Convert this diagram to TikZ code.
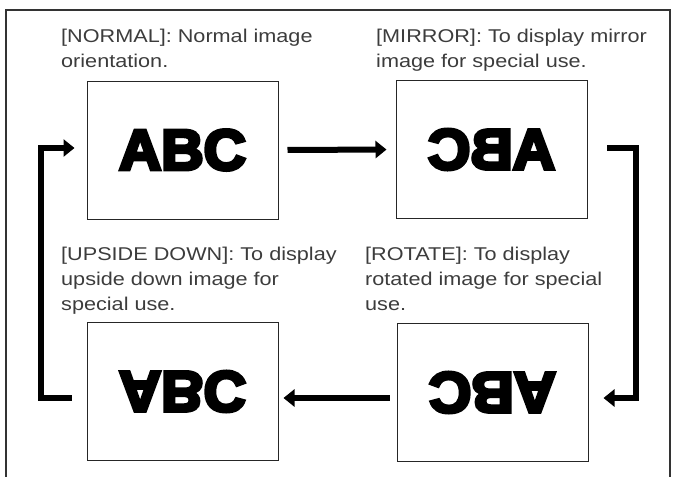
\documentclass[tikz,border=0pt]{standalone}
\usepackage{fontspec}
\usepackage{graphicx}
\usetikzlibrary{arrows.meta,calc}
\setmainfont{Liberation Sans}
\newfontfamily\lblfont[FakeStretch=1.17]{Liberation Sans}
\newfontfamily\heavyfont[BoldFeatures={FakeBold=6}]{Liberation Sans}
\newcommand{\abcword}{\resizebox{127pt}{40pt}{\heavyfont\bfseries ABC}}
\definecolor{txtgray}{HTML}{3C3C3C}
\definecolor{framegray}{HTML}{333333}
\tikzset{
  screen/.style={draw=black!85, line width=1pt, minimum width=191pt, minimum height=138pt, inner sep=0pt},
  lbl/.style={anchor=base west, align=left, inner sep=0pt, text=txtgray, font=\lblfont\fontsize{18.5}{25}\selectfont},
  flow/.style={line width=6pt, -{Triangle[length=11pt,width=17pt]}}
}
\begin{document}
\begin{tikzpicture}[x=1pt,y=-1pt]
\useasboundingbox (0,0) rectangle (673,477);
% frame
\draw[framegray, line width=2pt] (5.5,478) -- (5.5,10) -- (670,10) -- (670,478);
% screens
\node[screen] (n1) at (182.5,150) {\abcword};
\node[screen] (n2) at (491.5,149.5) {\scalebox{-1}[1]{\abcword}};
\node[screen] (n3) at (182.5,391.5) {\scalebox{1}[-1]{\abcword}};
\node[screen] (n4) at (492.5,392.5) {\rotatebox{180}{\abcword}};
% labels (anchor = baseline of last line)
\node[lbl] (l1) at (61,67) {[NORMAL]: Normal image\\orientation.};
\node[lbl] (l2) at (376,67) {[MIRROR]: To display mirror\\image for special use.};
\node[lbl] (l3) at (61,310) {[UPSIDE DOWN]: To display\\upside down image for\\special use.};
\node[lbl] (l4) at (365,310) {[ROTATE]: To display\\rotated image for special\\use.};
% corner points
\coordinate (c1) at (636,148);
\coordinate (c2) at (636,398);
\coordinate (c3) at (41,398);
\coordinate (c4) at (41,148);
% connectors
\draw[flow, shorten <=9pt, shorten >=9pt] (n1.east) -- (n2.west);
\draw[flow, shorten <=19.5pt, shorten >=15pt] (n2.east |- c1) -- (c1) -- (c2) -- (n4.east |- c2);
\draw[flow, shorten <=7pt, shorten >=5pt] (n4.west |- c2) -- (n3.east |- c2);
\draw[flow, shorten <=15pt, shorten >=12pt] (n3.west |- c3) -- (c3) -- (c4) -- (n1.west |- c4);
\end{tikzpicture}
\end{document}
